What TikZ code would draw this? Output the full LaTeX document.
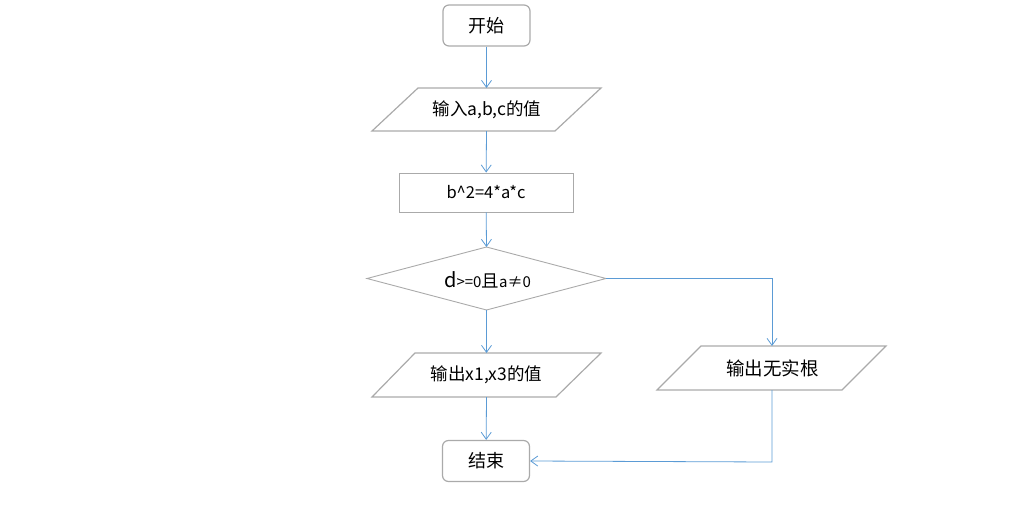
\documentclass[tikz,border=0pt]{standalone}
\usepackage{fontspec}
\setmainfont{Noto Sans CJK SC}
\usetikzlibrary{arrows.meta,calc}
\definecolor{bordergray}{RGB}{170,170,170}
\definecolor{lineblue}{RGB}{91,155,213}
\begin{document}
\begin{tikzpicture}[x=1pt,y=-1pt,
  box/.style={draw=bordergray,line width=1.2pt,inner sep=0pt,font=\fontsize{18}{20}\selectfont},
  term/.style={box,rounded corners=6pt,minimum width=87pt,minimum height=41pt},
  proc/.style={box,line width=0.9pt,minimum width=174pt,minimum height=39pt,font=\fontsize{16.5}{18}\selectfont},
  io/.style={inner sep=0pt,font=\fontsize{17.5}{20}\selectfont},
  pshape/.style={draw=bordergray,line width=1.2pt},
  flow/.style={draw=lineblue,line width=0.8pt,-{Straight Barb[length=7pt,width=10pt,line width=0.8pt]}}
]
\useasboundingbox (0,0) rectangle (1010,520);
\node[term] (start) at (486.5,25.5) {开始};
\node[io] (in) at (487,109.5) {输入a,b,c的值};
\draw[pshape] (418,88) -- (601,88) -- (555,131) -- (372,131) -- cycle;
\coordinate (inT) at (486.5,88);
\coordinate (inB) at (486.5,131);
\node[proc] (calc) at (486,192.5) {b\^{}2=4*a*c};
\node[io] (cond) at (487.5,280) {{\fontsize{20}{20}\selectfont d}{\fontsize{15}{16}\selectfont >=0}且{\fontsize{15}{16}\selectfont a≠0}};
\draw[pshape,line width=0.9pt] (367,278.5) -- (486.5,247) -- (606,278.5) -- (486.5,310) -- cycle;
\coordinate (condT) at (486.5,247);
\coordinate (condB) at (486.5,310);
\coordinate (condR) at (606,278.5);
\node[io] (out1) at (486.5,375) {输出x1,x3的值};
\draw[pshape] (415,353) -- (601,353) -- (556,397) -- (372,397) -- cycle;
\coordinate (out1T) at (486.5,353);
\coordinate (out1B) at (486.5,397);
\node[io,font=\fontsize{18.5}{20}\selectfont] (out2) at (772.5,368) {输出无实根};
\draw[pshape] (701,346) -- (886,346) -- (842,390) -- (657,390) -- cycle;
\coordinate (out2T) at (772,346);
\coordinate (out2B) at (772,390);
\node[term] (end) at (486,461) {结束};
\draw[flow] (start) -- (inT);
\draw[flow] (inB) -- (calc);
\draw[flow] (calc) -- (condT);
\draw[flow] (condB) -- (out1T);
\draw[flow] (out1B) -- (end);
\draw[flow] (condR) -- (772,278.5) -- (out2T);
\draw[flow] (out2B) -- (772,462) -- (end.east);
\end{tikzpicture}
\end{document}
